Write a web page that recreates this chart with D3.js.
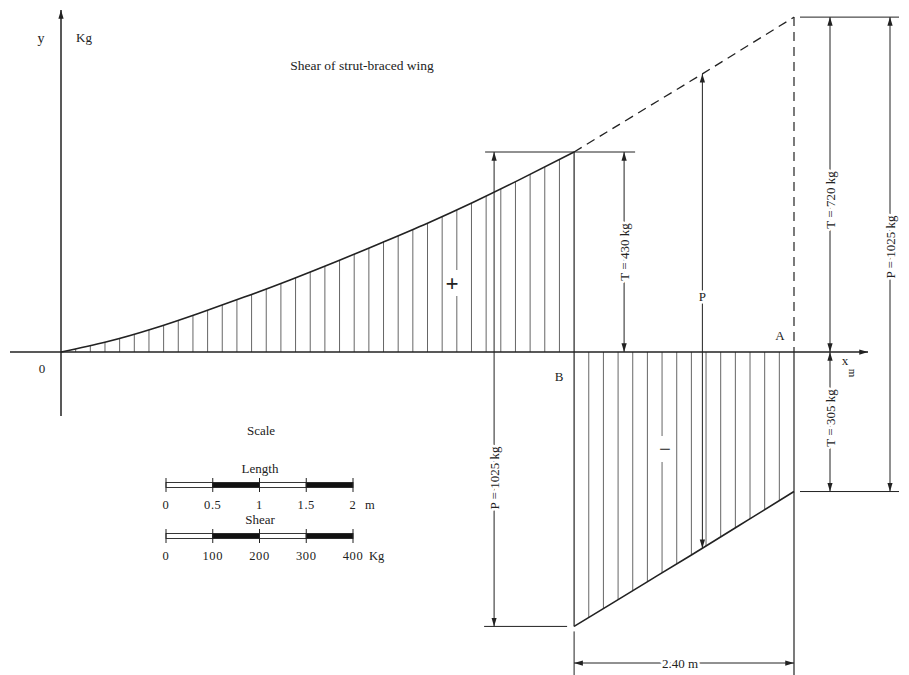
<!DOCTYPE html>
<html>
<head>
<meta charset="utf-8">
<script src="https://cdn.jsdelivr.net/npm/d3@7"></script>
<style>
body { margin: 0; background: #fff; }
text { font-family: "Liberation Serif", "DejaVu Serif", serif; fill: #222; }
.halo { paint-order: stroke; stroke: #fff; stroke-width: 5px; stroke-linejoin: round; }
</style>
</head>
<body>
<svg id="chart" width="909" height="675"></svg>
<script>
'use strict'

// shear of the wing along the span, x in m, shear in kg
const strutX = 5.6
const tipX = 8
const loadX = 7
const innerX = [0, 0.5, 1, 1.5, 2, 2.5, 3, 3.5, 4, 4.5, 5, 5.6]
const innerV = [0, 22, 50, 83, 118, 155, 194, 235, 277, 322, 370, 430]
const outerX = [5.6, 6, 6.5, 7, 7.5, 8]
const outerV = [430, 478, 538, 598, 659, 720]   // dashed, without strut
const outerNegV = [-590, -542, -482, -422, -361, -300]
const hatchStep = 0.16

const lengthTicks = [0, 0.5, 1, 1.5, 2]
const shearTicks = [0, 100, 200, 300, 400]

const labels = {
	title: 'Shear of strut-braced wing',
	pLeft: 'P = 1025 kg',
	t430: 'T = 430 kg',
	t720: 'T = 720 kg',
	t305: 'T = 305 kg',
	pRight: 'P = 1025 kg',
	span: '2.40 m'
}

function draw(){
	let svg = d3.select('#chart')
	let ink = '#222'

	let x = d3.scaleLinear().domain([0, tipX]).range([61, 794])
	let y = d3.scaleLinear().domain([0, 430]).range([352, 152])

	svg.append('defs').append('marker')
		.attr('id', 'arr')
		.attr('viewBox', '0 -4 10 8')
		.attr('markerUnits', 'userSpaceOnUse')
		.attr('markerWidth', 9).attr('markerHeight', 7)
		.attr('refX', 10).attr('refY', 0)
		.attr('orient', 'auto-start-reverse')
		.append('path').attr('d', 'M0,-3L10,0L0,3Z').attr('fill', ink)

	let line = d3.line()
		.x(d => x(d[0]))
		.y(d => y(d[1]))
		.curve(d3.curveNatural)

	let hatch = svg.append('g').attr('stroke', '#555').attr('stroke-width', 0.9)

	let inner = svg.append('path')
		.attr('d', line(d3.zip(innerX, innerV)))
		.attr('fill', 'none').attr('stroke', ink).attr('stroke-width', 1.6)
	svg.append('path')
		.attr('d', line(d3.zip(outerX, outerV)))
		.attr('fill', 'none').attr('stroke', ink).attr('stroke-width', 1.3)
		.attr('stroke-dasharray', '9,6')
	let neg = svg.append('path')
		.attr('d', line(d3.zip(outerX, outerNegV)))
		.attr('fill', 'none').attr('stroke', ink).attr('stroke-width', 1.6)

	// find y of a path at a screen x
	function yOn(node, sx){
		let lo = 0, hi = node.getTotalLength()
		for (let i = 0; i < 30; i++){
			let mid = (lo + hi) / 2
			if (node.getPointAtLength(mid).x < sx) lo = mid
			else hi = mid
		}
		return node.getPointAtLength(lo).y
	}

	let nIn = Math.round(strutX / hatchStep)
	let nOut = Math.round((tipX - strutX) / hatchStep)
	d3.range(1, nIn).forEach(k => {
		let sx = x(k * hatchStep)
		hatch.append('line').attr('x1', sx).attr('x2', sx)
			.attr('y1', y(0)).attr('y2', yOn(inner.node(), sx))
	})
	d3.range(1, nOut).forEach(k => {
		let sx = x(strutX + k * hatchStep)
		hatch.append('line').attr('x1', sx).attr('x2', sx)
			.attr('y1', y(0)).attr('y2', yOn(neg.node(), sx))
	})

	let xB = x(strutX), xA = x(tipX), xP = x(loadX)
	let yTop = y(outerV[outerV.length - 1])
	let yBot = y(outerNegV[outerNegV.length - 1])
	let yStrutTop = y(innerV[innerV.length - 1])
	let yStrutBot = y(outerNegV[0])

	function seg(x1, y1, x2, y2, w, dash){
		return svg.append('line')
			.attr('x1', x1).attr('y1', y1).attr('x2', x2).attr('y2', y2)
			.attr('stroke', ink).attr('stroke-width', w || 1)
			.attr('stroke-dasharray', dash || null)
	}
	function dim(x1, y1, x2, y2){
		seg(x1, y1, x2, y2, 1)
			.attr('marker-start', 'url(#arr)')
			.attr('marker-end', 'url(#arr)')
	}
	function vlabel(sx, sy, t){
		svg.append('text').attr('class', 'halo')
			.attr('transform', `translate(${sx},${sy}) rotate(-90)`)
			.attr('text-anchor', 'middle').attr('dy', '0.35em')
			.attr('font-size', 13).text(t)
	}
	// sign in a field of hatching, with a white gap round it
	function sign(sx, sy, t, size, bold){
		svg.append('rect').attr('x', sx - 8).attr('y', sy - 13)
			.attr('width', 16).attr('height', 26).attr('fill', '#fff')
		svg.append('text').attr('x', sx).attr('y', sy).attr('dy', '0.33em')
			.attr('text-anchor', 'middle').attr('font-size', size)
			.attr('font-weight', bold ? 'bold' : null).text(t)
	}

	// boundaries at strut and tip
	seg(xB, yStrutTop, xB, yStrutBot, 1.2)
	seg(xB, yStrutBot + 5, xB, 675, 1)
	seg(xA, yTop, xA, y(0), 1.2, '9,6')
	seg(xA, y(0), xA, 675, 1.2)

	sign(452, 283, '+', 23, true)
	sign(665, 449, '\u2212', 21, false)

	// axes
	seg(10, y(0), 868, y(0), 1.7).attr('marker-end', 'url(#arr)')
	seg(x(0), 416, x(0), 10, 1.5).attr('marker-end', 'url(#arr)')

	// dimension lines
	seg(xB - 89, yStrutTop, xB + 61, yStrutTop, 1)
	seg(xB - 90, yStrutBot, xB - 7, yStrutBot, 1)
	dim(xB - 80, yStrutTop, xB - 80, yStrutBot)
	vlabel(xB - 80, 478, labels.pLeft)
	dim(xB + 50, yStrutTop, xB + 50, y(0))
	vlabel(xB + 50, 252, labels.t430)

	let loadI = outerX.indexOf(loadX)
	dim(xP, y(outerV[loadI]), xP, y(outerNegV[loadI]))
	svg.append('text').attr('class', 'halo')
		.attr('x', xP).attr('y', 296).attr('dy', '0.35em')
		.attr('text-anchor', 'middle').attr('font-size', 13).text('P')

	seg(xA + 6, yTop, xA + 105, yTop, 1)
	seg(xA + 6, yBot, xA + 105, yBot, 1)
	dim(xA + 36, yTop, xA + 36, y(0))
	vlabel(xA + 36, 200, labels.t720)
	dim(xA + 36, y(0), xA + 36, yBot)
	vlabel(xA + 36, 418, labels.t305)
	dim(xA + 96, yTop, xA + 96, yBot)
	vlabel(xA + 96, 247, labels.pRight)

	dim(xB, 663, xA, 663)
	svg.append('text').attr('class', 'halo')
		.attr('x', (xB + xA) / 2 - 4).attr('y', 663).attr('dy', '0.35em')
		.attr('text-anchor', 'middle').attr('font-size', 13).text(labels.span)

	// texts
	svg.append('text').attr('x', 362).attr('y', 65).attr('dy', '0.35em')
		.attr('text-anchor', 'middle').attr('font-size', 13.5).text(labels.title)
	svg.append('text').attr('x', 41).attr('y', 43).attr('text-anchor', 'middle')
		.attr('font-size', 14).text('y')
	svg.append('text').attr('x', 76).attr('y', 42).attr('font-size', 13).text('Kg')
	svg.append('text').attr('x', 42).attr('y', 373).attr('text-anchor', 'middle')
		.attr('font-size', 13).text('0')
	svg.append('text').attr('x', xB - 15).attr('y', 381).attr('text-anchor', 'middle')
		.attr('font-size', 13).text('B')
	svg.append('text').attr('x', xA - 14).attr('y', 340).attr('text-anchor', 'middle')
		.attr('font-size', 13).text('A')
	svg.append('text').attr('x', 845).attr('y', 365).attr('text-anchor', 'middle')
		.attr('font-size', 13).text('x')
	svg.append('text').attr('transform', 'translate(853,373) rotate(90)')
		.attr('text-anchor', 'middle').attr('dy', '0.35em')
		.attr('font-size', 11).text('m')

	// scale bars
	svg.append('text').attr('x', 261).attr('y', 430).attr('dy', '0.35em')
		.attr('text-anchor', 'middle').attr('font-size', 13).text('Scale')

	function bar(ticks, by, title, unit, unitDx){
		let s = d3.scaleLinear().domain(d3.extent(ticks)).range([166, 353])
		svg.append('text').attr('x', 260).attr('y', by - 17).attr('dy', '0.35em')
			.attr('text-anchor', 'middle').attr('font-size', 13).text(title)
		d3.pairs(ticks).forEach((p, i) => {
			svg.append('rect')
				.attr('x', s(p[0])).attr('y', by - 2.5)
				.attr('width', s(p[1]) - s(p[0])).attr('height', 5)
				.attr('fill', i % 2 ? '#111' : '#fff')
				.attr('stroke', ink).attr('stroke-width', 0.9)
		})
		ticks.forEach(t => {
			seg(s(t), by - 7, s(t), by + 7, 1)
			svg.append('text').attr('x', s(t)).attr('y', by + 20).attr('dy', '0.35em')
				.attr('text-anchor', 'middle').attr('font-size', 12.5)
				.attr('letter-spacing', 0.6).text(t)
		})
		svg.append('text').attr('x', s(ticks[ticks.length - 1]) + unitDx)
			.attr('y', by + 20).attr('dy', '0.35em')
			.attr('font-size', 12.5).text(unit)
	}
	bar(lengthTicks, 485, 'Length', 'm', 12)
	bar(shearTicks, 536, 'Shear', 'Kg', 16)
}

draw()
</script>
</body>
</html>
